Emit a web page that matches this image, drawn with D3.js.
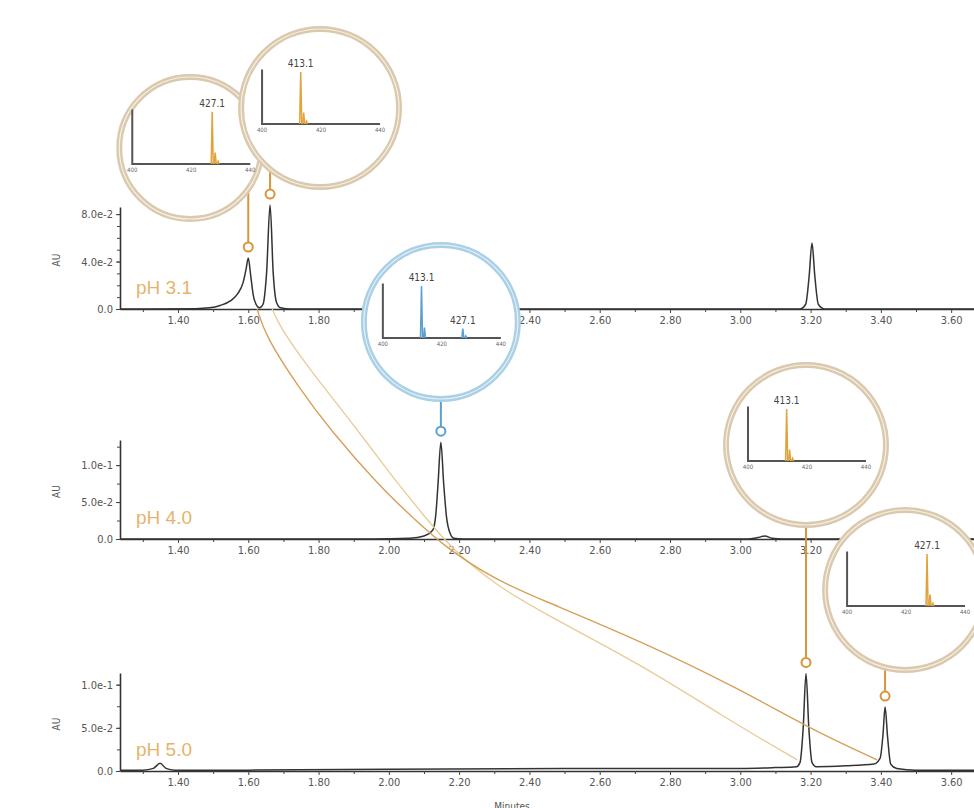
<!DOCTYPE html>
<html>
<head>
<meta charset="utf-8">
<script src="https://cdn.jsdelivr.net/npm/d3@7"></script>
<style>
body { margin: 0; background: #fff; }
svg { display: block; }
</style>
</head>
<body>
<div id="chart"></div>
<script>
// retention time axis (minutes)
const xTicks = [1.40, 1.60, 1.80, 2.00, 2.20, 2.40, 2.60, 2.80, 3.00, 3.20, 3.40, 3.60];
const xTickLabels = ["1.40", "1.60", "1.80", "2.00", "2.20", "2.40", "2.60", "2.80", "3.00", "3.20", "3.40", "3.60"];
const xMinor = [1.30, 1.50, 1.70, 1.90, 2.10, 2.30, 2.50, 2.70, 2.90, 3.10, 3.30, 3.50];

const panelLabels = ["pH 3.1", "pH 4.0", "pH 5.0"];

// chromatograms, [minutes, AU]
const trace31 = [[1.235, 0], [1.45, 0.0003], [1.49, 0.001], [1.52, 0.003], [1.55, 0.007], [1.57, 0.013],
  [1.585, 0.022], [1.594, 0.034], [1.600, 0.043], [1.607, 0.028], [1.614, 0.012], [1.622, 0.004],
  [1.632, 0.001], [1.642, 0.004], [1.652, 0.03], [1.662, 0.0876], [1.671, 0.03], [1.680, 0.006],
  [1.692, 0.001], [1.72, 0], [3.17, 0], [3.186, 0.004], [3.196, 0.028], [3.204, 0.0556],
  [3.212, 0.028], [3.222, 0.004], [3.24, 0], [3.665, 0]];
const trace40 = [[1.235, 0], [1.95, 0], [2.06, 0.001], [2.10, 0.004], [2.125, 0.012], [2.134, 0.035],
  [2.140, 0.075], [2.148, 0.131], [2.156, 0.075], [2.164, 0.03], [2.174, 0.008], [2.185, 0.001],
  [2.21, 0], [3.02, 0], [3.05, 0.002], [3.07, 0.004], [3.09, 0.001], [3.12, 0], [3.665, 0]];
const trace50 = [[1.235, 0.001], [1.30, 0.001], [1.33, 0.003], [1.349, 0.009], [1.366, 0.003],
  [1.39, 0.001], [1.60, 0.001], [2.00, 0.002], [2.50, 0.003], [3.00, 0.003], [3.10, 0.004],
  [3.16, 0.005], [3.170, 0.01], [3.179, 0.05], [3.187, 0.113], [3.195, 0.05], [3.204, 0.01],
  [3.216, 0.005], [3.30, 0.006], [3.38, 0.008], [3.398, 0.015], [3.406, 0.042], [3.412, 0.074],
  [3.419, 0.04], [3.428, 0.008], [3.445, 0.003], [3.50, 0.001], [3.665, 0.001]];

const yTicks31 = [0, 0.04, 0.08];
const yTickLabels31 = ["0.0", "4.0e-2", "8.0e-2"];
const yTicks40 = [0, 0.05, 0.1];
const yTickLabels40 = ["0.0", "5.0e-2", "1.0e-1"];
const yTicks50 = [0, 0.05, 0.1];
const yTickLabels50 = ["0.0", "5.0e-2", "1.0e-1"];

// peaks sent to the mass spectrometer
const pickedPanel = [0, 0, 1, 2, 2];
const pickedTime = [1.600, 1.662, 2.148, 3.187, 3.412];
const pickedAU = [0.043, 0.0876, 0.131, 0.113, 0.074];

// mass spectra, [m/z, relative intensity]
const spec427 = [[427.1, 1], [428.1, 0.22], [429.1, 0.05]];
const spec413 = [[413.1, 1], [414.1, 0.22], [415.1, 0.05]];
const specMix = [[413.1, 1], [414.1, 0.2], [427.1, 0.18], [428.1, 0.04]];
const mzTicks = [400, 420, 440];
const mzTickLabels = ["400", "420", "440"];

const magSpectra = [spec427, spec413, specMix, spec413, spec427];
const magLabels = [["427.1"], ["413.1"], ["413.1", "427.1"], ["413.1"], ["427.1"]];

// paths following each ion across the three runs, [minutes, fraction from top to bottom baseline]
const link427 = [[1.625, 0.0], [1.650, 0.06], [1.739, 0.165], [1.833, 0.262], [1.975, 0.385],
  [2.080, 0.46], [2.160, 0.515], [2.300, 0.585], [2.430, 0.628], [2.715, 0.718], [2.999, 0.823],
  [3.190, 0.905], [3.389, 0.976]];
const link413 = [[1.668, 0.0], [1.690, 0.04], [1.784, 0.14], [1.881, 0.232], [2.003, 0.356],
  [2.097, 0.445], [2.180, 0.52], [2.300, 0.595], [2.430, 0.655], [2.715, 0.768], [2.951, 0.882],
  [3.162, 0.976]];

// layout
const width = 974, height = 808;
const orange = "#d8953a", blue = "#5b9fd0";
const magDx = [-58, 50, 0, 0, 20];
const magCy = [148, 108, 322, 445, 590];
const magR = [71, 79, 77, 80, 80];
const magBlue = [false, false, true, false, false];

const svg = d3.select("#chart").append("svg")
  .attr("width", width)
  .attr("height", height);

const x = d3.scaleLinear().domain([1.235, 3.665]).range([120, 974]);

const panels = [
  {label: panelLabels[0], trace: trace31, y: d3.scaleLinear().domain([0, 0.086]).range([309, 207]),
    ticks: yTicks31, tickLabels: yTickLabels31, minor: d3.range(0.01, 0.086, 0.01)},
  {label: panelLabels[1], trace: trace40, y: d3.scaleLinear().domain([0, 0.134]).range([539, 440]),
    ticks: yTicks40, tickLabels: yTickLabels40, minor: d3.range(0.025, 0.134, 0.025)},
  {label: panelLabels[2], trace: trace50, y: d3.scaleLinear().domain([0, 0.1135]).range([771, 673]),
    ticks: yTicks50, tickLabels: yTickLabels50, minor: d3.range(0.025, 0.113, 0.025)}
];

// magnifier centres, used to skip tick labels they cover
const magCentres = pickedTime.map((t, i) => [x(t) + magDx[i], magCy[i], magR[i]]);
const underMag = (px, py) => magCentres.some(c => Math.hypot(px - c[0], py - c[1]) < c[2] - 4);

const tickFont = "'Liberation Sans Narrow', 'DejaVu Sans Condensed', sans-serif";

panels.forEach(p => {
  const g = svg.append("g");

  g.append("g")
    .attr("transform", `translate(0,${p.y(0)})`)
    .call(d3.axisBottom(x).tickValues(xTicks)
      .tickFormat((d, i) => underMag(x(d), p.y(0) + 12) ? "" : xTickLabels[i])
      .tickSize(4).tickSizeOuter(0));
  g.append("g")
    .attr("transform", `translate(0,${p.y(0)})`)
    .call(d3.axisBottom(x).tickValues(xMinor).tickFormat("").tickSize(3).tickSizeOuter(0))
    .select(".domain").remove();

  g.append("g")
    .attr("transform", `translate(${x.range()[0]},0)`)
    .call(d3.axisLeft(p.y).tickValues(p.ticks).tickFormat((d, i) => p.tickLabels[i]).tickSize(4).tickSizeOuter(0));
  g.append("g")
    .attr("transform", `translate(${x.range()[0]},0)`)
    .call(d3.axisLeft(p.y).tickValues(p.minor).tickFormat("").tickSize(3).tickSizeOuter(0))
    .select(".domain").remove();

  g.selectAll(".domain").attr("stroke", "#333").attr("stroke-width", 1.6);
  g.selectAll(".tick line").attr("stroke", "#444").attr("stroke-width", 1);
  g.selectAll(".tick text")
    .attr("fill", "#555")
    .attr("font-family", tickFont)
    .attr("font-size", "11px");

  g.append("text")
    .attr("transform", `translate(60,${(p.y.range()[0] + p.y.range()[1]) / 2 + 2}) rotate(-90)`)
    .attr("text-anchor", "middle")
    .attr("font-family", tickFont)
    .attr("font-size", "10px")
    .attr("fill", "#555")
    .text("AU");

  g.append("path")
    .datum(p.trace)
    .attr("fill", "none")
    .attr("stroke", "#333")
    .attr("stroke-width", 1.5)
    .attr("d", d3.line().x(d => x(d[0])).y(d => p.y(d[1])).curve(d3.curveMonotoneX));
});

svg.append("text")
  .attr("x", 512)
  .attr("y", 810)
  .attr("text-anchor", "middle")
  .attr("font-family", tickFont)
  .attr("font-size", "10px")
  .attr("fill", "#555")
  .text("Minutes");

// ion tracking curves
const yLink = d3.scaleLinear().domain([0, 1]).range([panels[0].y(0), panels[2].y(0)]);
const linkLine = d3.line().x(d => x(d[0])).y(d => yLink(d[1])).curve(d3.curveBasis);
svg.append("path").datum(link413)
  .attr("fill", "none").attr("stroke", "#e9cb97").attr("stroke-width", 1.3)
  .attr("d", linkLine);
svg.append("path").datum(link427)
  .attr("fill", "none").attr("stroke", "#d5a159").attr("stroke-width", 1.4)
  .attr("d", linkLine);

// stems and markers
pickedTime.forEach((t, i) => {
  const col = magBlue[i] ? blue : orange;
  const px = x(t);
  const py = panels[pickedPanel[i]].y(pickedAU[i]) - 11;
  svg.append("line")
    .attr("x1", px).attr("x2", px)
    .attr("y1", py - 5).attr("y2", magCy[i])
    .attr("stroke", col).attr("stroke-width", 2);
  svg.append("circle")
    .attr("cx", px).attr("cy", py).attr("r", 4.5)
    .attr("fill", "#fff").attr("stroke", col).attr("stroke-width", 2);
});

// magnified mass spectra
const specLine = d3.line().x(d => d[0]).y(d => d[1]);
pickedTime.forEach((t, i) => {
  const cx = magCentres[i][0];
  const cy = magCy[i];
  const r = magR[i];
  const g = svg.append("g");

  g.append("circle")
    .attr("cx", cx).attr("cy", cy).attr("r", r)
    .attr("fill", "#fff")
    .attr("stroke", magBlue[i] ? "#abd0e5" : "#dbc9ad")
    .attr("stroke-width", 6);
  g.append("circle")
    .attr("cx", cx).attr("cy", cy).attr("r", r)
    .attr("fill", "none")
    .attr("stroke", "#fff")
    .attr("stroke-opacity", 0.7)
    .attr("stroke-width", 1.2);

  const ox = cx - 58, oy = cy + 16;
  const mz = d3.scaleLinear().domain([400, 440]).range([ox, ox + 118]);
  const rel = d3.scaleLinear().domain([0, 1]).range([oy, oy - 52]);

  g.append("path")
    .attr("d", `M${ox},${rel(1.05)}V${oy}H${mz(440)}`)
    .attr("fill", "none")
    .attr("stroke", "#555")
    .attr("stroke-width", 2);

  g.selectAll(".mzt")
    .data(mzTicks)
    .enter()
    .append("text")
    .attr("x", d => mz(d))
    .attr("y", oy + 8)
    .attr("text-anchor", "middle")
    .attr("font-family", tickFont)
    .attr("font-size", "6px")
    .attr("fill", "#666")
    .text((d, k) => mzTickLabels[k]);

  const col = magBlue[i] ? blue : "#e0a23a";
  magSpectra[i].forEach(s => {
    g.append("path")
      .attr("d", specLine([[mz(s[0] - 0.35), oy], [mz(s[0]), rel(s[1])], [mz(s[0] + 0.35), oy]]))
      .attr("fill", "none")
      .attr("stroke", col)
      .attr("stroke-width", 1.5);
    if (magLabels[i].includes(s[0].toFixed(1))) {
      g.append("text")
        .attr("x", mz(s[0]))
        .attr("y", rel(s[1]) - 5)
        .attr("text-anchor", "middle")
        .attr("font-family", tickFont)
        .attr("font-size", "10px")
        .attr("fill", "#444")
        .text(s[0].toFixed(1));
    }
  });
});

// run labels
panels.forEach(p => {
  svg.append("text")
    .attr("x", 136)
    .attr("y", p.y(0) - 15)
    .attr("font-family", "'Liberation Sans', Arial, sans-serif")
    .attr("font-size", "19px")
    .attr("fill", "#e5b46b")
    .text(p.label);
});
</script>
</body>
</html>
